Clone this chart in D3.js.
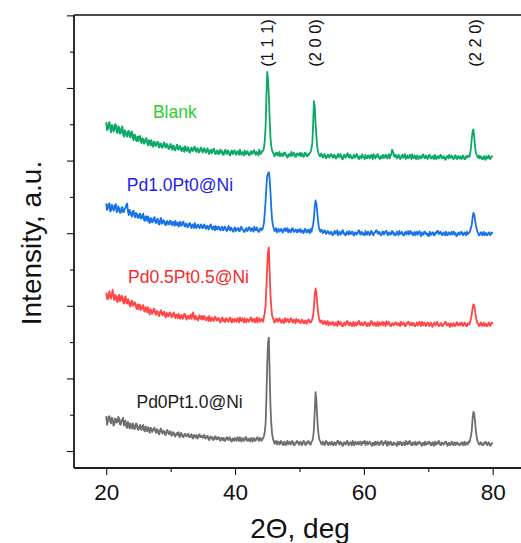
<!DOCTYPE html>
<html>
<head>
<meta charset="utf-8">
<script src="https://cdn.jsdelivr.net/npm/d3@7"></script>
<style>
  html, body { margin: 0; padding: 0; background: #fff; }
  svg { display: block; }
  text { font-family: "Liberation Sans", Arial, Helvetica, sans-serif; }
</style>
</head>
<body>
<svg id="chart" width="521" height="543"></svg>
<script>
// 2θ sampling grid, 20–80° in 0.125° steps
const twoTheta = d3.range(0, 481).map(i => 20 + i * 0.125);

// Measured intensities (a.u.) on the grid above, 40 points per 5°
const pd0pt1 = [
  48,36,40,47,48,41,38,46,44,35,36,45,44,39,40,47,45,37,36,43,41,46,35,40,42,33,32,40,37,31,38,34,31,38,36,30,32,38,37,30,
  29,34,36,30,29,35,36,28,27,34,31,27,33,30,25,32,31,26,28,31,32,27,25,30,29,24,23,29,31,26,24,28,27,23,22,28,29,25,23,27,
  27,21,22,26,25,21,20,24,25,22,26,19,20,25,23,20,19,23,24,21,20,23,24,19,19,22,23,18,17,22,21,19,22,17,18,22,23,19,19,21,
  18,21,22,17,18,20,21,16,15,19,20,17,19,15,16,20,20,16,16,19,19,15,14,18,18,15,18,14,14,18,19,16,15,19,18,14,13,17,17,14,
  18,15,14,19,17,14,19,15,13,18,17,14,15,19,19,14,14,17,16,13,18,15,13,18,17,14,15,18,19,15,14,18,17,14,16,18,21,27,38,75,
  120,150,156,108,62,38,24,17,14,10,12,14,9,13,13,9,10,14,12,9,8,13,12,8,11,14,9,12,13,9,10,14,12,8,8,12,11,14,13,9,
  9,13,12,8,10,14,13,9,8,12,11,14,12,9,9,13,14,19,30,55,81,70,48,30,20,15,13,10,9,13,12,8,10,14,13,9,8,12,11,9,
  13,9,8,12,12,8,10,14,14,10,9,13,11,8,7,12,12,9,10,14,13,8,9,12,11,8,14,10,8,13,12,9,10,13,9,12,13,8,10,13,
  11,14,8,12,13,9,10,13,12,9,7,11,11,8,13,9,9,13,12,8,10,13,14,9,8,12,11,14,10,7,13,9,9,13,12,8,8,12,11,9,
  10,7,13,9,9,13,12,8,8,12,11,8,14,10,9,13,10,14,12,8,8,12,11,9,13,8,9,12,10,13,12,9,7,11,11,8,13,9,9,12,
  10,13,12,8,8,12,11,7,13,9,9,12,10,14,12,8,8,12,11,9,10,13,13,9,7,11,11,8,9,13,12,8,10,12,8,11,12,9,10,8,
  9,12,12,8,10,13,8,11,11,9,13,12,16,21,28,44,54,52,42,29,20,14,12,9,9,12,11,8,8,11,10,13,12,8,9,12,10,7,8,11,
  10
];
const pd05pt05 = [
  58,50,49,57,60,51,50,56,62,52,48,55,54,47,45,53,55,46,48,54,53,45,43,51,53,44,43,49,47,41,39,46,47,40,41,45,44,38,36,42,
  35,42,41,34,35,40,41,33,32,38,36,31,38,33,28,35,34,29,31,36,35,29,28,33,32,27,26,32,34,29,27,31,32,26,24,30,30,25,27,31,
  30,24,25,29,31,25,23,28,27,23,29,24,22,27,27,22,24,29,28,23,21,26,26,22,25,28,22,27,31,24,21,26,25,21,20,25,27,22,22,26,
  21,25,26,21,20,24,24,19,26,21,19,24,23,19,20,25,24,20,20,23,23,18,17,22,24,19,22,18,18,23,22,19,18,23,24,19,17,22,21,18,
  22,19,18,23,21,17,24,20,19,23,20,17,23,19,17,22,21,18,19,23,24,19,18,22,22,17,20,24,17,21,23,18,19,22,21,18,25,31,42,68,
  95,115,120,88,55,38,27,23,21,17,18,22,22,18,19,23,21,17,17,21,20,16,23,19,18,22,21,17,19,23,22,18,17,21,20,16,22,19,18,21,
  19,16,17,21,20,16,16,20,19,15,18,21,21,17,17,19,22,27,38,55,64,58,44,32,24,19,17,20,19,15,15,19,18,14,16,19,13,17,17,14,
  14,18,17,13,13,17,16,12,19,15,14,18,15,12,12,16,17,13,15,19,18,14,13,17,16,12,14,18,12,15,17,13,15,18,19,14,13,17,16,13,
  14,18,17,13,12,16,16,12,15,19,18,14,13,17,16,12,14,18,12,16,17,13,15,18,13,17,16,12,19,15,14,18,15,12,12,16,16,13,14,17,
  17,14,13,16,15,12,18,14,14,17,16,12,12,16,15,18,17,13,14,17,13,16,16,12,12,15,17,13,14,18,15,12,18,14,13,17,15,12,14,17,
  16,12,13,17,15,11,12,16,17,13,14,18,15,12,13,16,16,12,12,15,15,18,17,13,13,16,14,11,16,13,12,16,15,12,13,17,17,13,14,16,
  13,17,16,12,14,17,15,12,12,16,15,14,18,22,28,36,42,41,34,26,20,16,15,12,13,17,16,12,14,17,12,15,15,12,13,17,16,12,14,17,
  15
];
const pd1pt0 = [
  56,47,49,55,56,45,46,54,53,46,48,54,55,44,45,52,49,43,43,50,51,44,44,49,50,54,56,45,40,47,45,40,38,45,46,39,37,43,42,36,
  36,41,42,35,35,40,42,33,32,38,38,32,38,31,29,36,35,30,31,36,37,30,29,34,35,28,27,33,36,28,29,33,32,27,26,31,32,27,27,32,
  32,27,26,31,30,25,32,27,26,30,24,28,31,25,26,30,31,25,24,28,28,23,24,28,29,24,22,27,26,22,29,24,22,26,27,23,22,26,27,22,
  22,26,27,22,21,25,25,20,22,26,27,22,20,24,24,19,25,21,20,24,24,20,19,23,24,19,20,24,23,19,18,22,25,20,19,23,21,18,17,22,
  23,18,19,22,22,18,18,23,24,20,20,17,17,21,22,18,19,23,23,19,18,22,21,17,24,20,19,23,20,17,17,21,22,19,20,24,30,44,60,80,
  94,97,99,90,72,50,34,26,22,18,19,22,16,20,21,17,18,21,20,16,17,21,22,18,19,22,16,20,20,16,18,22,21,17,17,20,19,16,20,17,
  18,21,16,19,19,15,17,21,20,16,16,20,18,15,21,17,22,27,36,52,60,56,45,33,24,19,17,20,19,15,16,19,18,14,15,18,17,14,14,17,
  16,12,13,17,18,14,15,19,12,16,17,13,14,18,19,14,15,12,13,17,16,13,18,14,14,17,17,12,12,16,16,13,15,18,19,14,13,17,16,13,
  15,12,18,14,13,17,16,12,14,18,17,13,12,16,16,19,19,15,14,17,15,12,13,17,17,13,15,18,18,14,12,16,16,13,14,18,17,13,15,12,
  13,17,16,12,18,14,14,17,15,12,12,16,17,13,15,18,13,16,18,14,16,12,14,17,12,15,17,13,15,18,14,11,16,13,13,17,17,14,15,12,
  14,11,17,13,13,16,16,12,12,16,15,18,18,14,14,17,16,12,13,16,15,12,17,13,12,16,16,13,14,17,13,16,17,13,15,11,12,15,16,13,
  14,17,16,12,13,16,15,12,17,14,14,16,18,22,27,36,43,41,34,27,21,17,15,12,13,16,16,12,14,17,12,15,15,12,13,16,16,12,14,16,
  14
];
const blank = [
  63,52,53,61,63,54,49,59,58,50,52,60,59,49,48,57,56,47,48,55,57,46,43,52,50,44,43,50,51,43,42,49,50,41,38,46,45,38,37,43,
  37,43,44,36,34,41,40,33,35,40,41,34,31,38,37,31,38,32,29,36,36,30,31,35,36,29,28,34,33,28,28,33,35,29,28,33,32,27,26,31,
  33,27,25,31,30,24,24,29,32,26,25,30,30,24,23,28,27,22,30,25,23,28,28,22,21,26,28,23,24,28,29,23,22,27,26,21,22,27,28,23,
  21,26,27,22,21,25,27,21,19,24,25,20,22,26,26,20,19,23,24,19,19,24,25,20,23,18,18,23,25,20,19,24,23,18,17,22,24,19,20,24,
  23,18,19,23,22,18,25,20,18,22,21,17,24,19,19,23,22,18,17,21,23,19,20,24,24,19,18,22,21,17,25,20,19,23,22,24,28,38,58,100,
  132,122,100,68,42,30,24,21,20,16,17,21,21,17,18,22,16,19,20,16,17,21,21,17,18,14,15,19,19,16,22,18,17,21,19,15,16,20,20,17,
  18,21,16,20,19,15,17,21,20,16,16,19,18,21,22,27,34,60,92,85,62,44,30,23,19,16,16,20,18,14,15,19,17,13,14,18,18,14,16,19,
  18,14,14,18,17,13,13,17,19,15,15,19,16,12,12,17,18,14,15,19,20,15,14,18,16,13,13,17,18,14,15,19,17,13,12,16,16,13,19,15,
  15,12,18,14,13,17,17,13,14,18,16,12,19,15,13,17,15,19,17,13,12,16,16,13,18,14,14,18,17,13,15,19,13,17,18,25,23,19,15,18,
  17,13,14,18,16,12,13,17,18,14,15,19,12,16,17,13,14,18,16,12,19,15,13,17,15,12,17,14,12,16,16,13,14,18,18,14,13,17,16,12,
  14,18,17,13,13,16,15,12,18,14,12,16,16,13,14,18,17,13,13,16,15,11,12,16,16,13,18,14,14,17,15,12,13,17,17,13,12,16,15,13,
  16,12,13,17,15,12,12,16,14,17,16,15,20,27,40,50,53,44,30,22,18,15,14,17,13,16,15,12,12,16,14,11,16,13,13,17,15,12,14,16,
  15
];

// Stacking: sample names, vertical offsets and colours
const sampleNames   = ["Pd0Pt1.0@Ni", "Pd0.5Pt0.5@Ni", "Pd1.0Pt0@Ni", "Blank"];
const sampleData    = [pd0pt1, pd05pt05, pd1pt0, blank];
const sampleOffsets = [0, 160, 285, 390];
const lineColors    = ["#6e6e6e", "#ff4545", "#1672e6", "#0aa964"];
const labelColors   = ["#1c1c1c", "#f52a2a", "#2323e8", "#2bd12b"];
// label anchor: [2θ, intensity incl. offset]
const labelPos      = [[24.7, 59], [23.4, 231], [23.2, 358], [27.25, 458]];

// Reflection indices and their 2θ positions
const hklLabels = ["(1 1 1)", "(2 0 0)", "(2 2 0)"];
const hklAngles = [45.0, 52.45, 77.3];

const xTicks      = [20, 40, 60, 80];
const xMinorTicks = [30, 50, 70];
const yTicks      = [0, 100, 200, 300, 400, 500, 600];
const yMinorTicks = [50, 150, 250, 350, 450, 550];

const svg = d3.select("#chart");
const plotLeft = 74, plotTop = 15, plotBottom = 468, plotRight = 521;

const x = d3.scaleLinear().domain([15, 85]).range([plotLeft, 524.9]);
const y = d3.scaleLinear().domain([-23.4, 600.5]).range([plotBottom, plotTop]);

// frame: top border and the two axes
svg.append("line").attr("x1", plotLeft).attr("x2", plotRight).attr("y1", plotTop).attr("y2", plotTop)
  .attr("stroke", "#111").attr("stroke-width", 1.3);

const xAxis = svg.append("g").attr("transform", `translate(0,${plotBottom})`)
  .call(d3.axisBottom(x).tickValues(xTicks).tickSize(7).tickPadding(9).tickFormat(d3.format("d")));
xAxis.append("g").call(d3.axisBottom(x).tickValues(xMinorTicks).tickSize(4).tickFormat(""));
xAxis.selectAll(".domain").attr("d", `M${plotLeft},0H${plotRight}`);

const yAxis = svg.append("g").attr("transform", `translate(${plotLeft},0)`)
  .call(d3.axisLeft(y).tickValues(yTicks).tickSize(7).tickFormat(""));
yAxis.append("g").call(d3.axisLeft(y).tickValues(yMinorTicks).tickSize(4).tickFormat(""));
yAxis.selectAll(".domain").attr("d", `M0,${plotTop}V${plotBottom}`);

svg.selectAll(".domain").attr("stroke", "#111").attr("stroke-width", 1.3);
svg.selectAll(".tick line").attr("stroke", "#111").attr("stroke-width", 1.1);
xAxis.selectAll(".tick text").attr("font-size", 22.5).attr("fill", "#111")
  .attr("font-family", "'Liberation Sans', Arial, sans-serif");

// patterns
const line = d3.line().x((d, i) => x(twoTheta[i]));
sampleData.forEach((vals, k) => {
  svg.append("path")
    .attr("d", line.y(d => y(d + sampleOffsets[k]))(vals))
    .attr("fill", "none")
    .attr("stroke", lineColors[k])
    .attr("stroke-width", 1.8)
    .attr("stroke-linejoin", "round");
});

// sample labels
sampleNames.forEach((name, k) => {
  svg.append("text")
    .attr("x", x(labelPos[k][0]))
    .attr("y", y(labelPos[k][1]))
    .attr("font-size", 17.5)
    .attr("fill", labelColors[k])
    .text(name);
});

// reflection labels
hklLabels.forEach((t, k) => {
  svg.append("text")
    .attr("transform", `translate(${x(hklAngles[k])},43) rotate(-90)`)
    .attr("text-anchor", "middle")
    .attr("dominant-baseline", "central")
    .attr("font-size", 16.5)
    .attr("fill", "#111")
    .text(t);
});

// axis titles
svg.append("text")
  .attr("x", 300).attr("y", 538)
  .attr("text-anchor", "middle")
  .attr("font-size", 28)
  .attr("fill", "#111")
  .text("2Θ, deg");

svg.append("text")
  .attr("transform", "translate(31,243) rotate(-90)")
  .attr("text-anchor", "middle")
  .attr("dominant-baseline", "central")
  .attr("font-size", 28)
  .attr("fill", "#111")
  .text("Intensity, a.u.");
</script>
</body>
</html>
